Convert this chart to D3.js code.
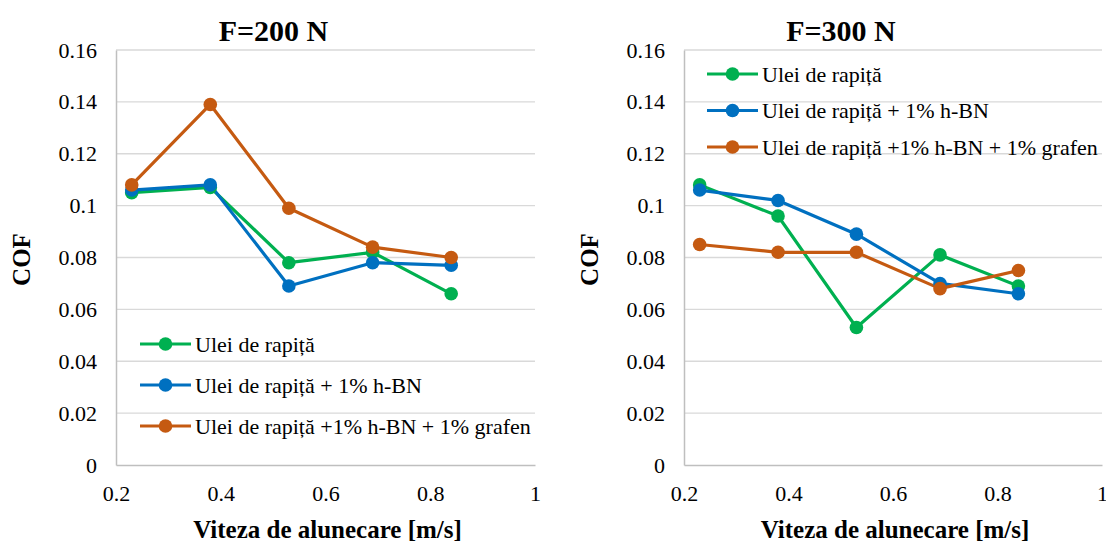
<!DOCTYPE html>
<html><head><meta charset="utf-8">
<script src="https://cdn.jsdelivr.net/npm/d3@7"></script>
<style>body{margin:0;background:#fff}svg{display:block}</style>
</head><body><svg id="c" width="1106" height="542"></svg>
<script>
const speeds = [0.23, 0.38, 0.53, 0.69, 0.84];
const seriesNames = ["Ulei de rapiță", "Ulei de rapiță + 1% h-BN", "Ulei de rapiță +1% h-BN + 1% grafen"];
const seriesColors = ["#00b050", "#0070c0", "#c55a11"];
const f200Green = [0.105, 0.107, 0.078, 0.082, 0.066];
const f200Blue = [0.106, 0.108, 0.069, 0.078, 0.077];
const f200Orange = [0.108, 0.139, 0.099, 0.084, 0.080];
const f300Green = [0.108, 0.096, 0.053, 0.081, 0.069];
const f300Blue = [0.106, 0.102, 0.089, 0.070, 0.066];
const f300Orange = [0.085, 0.082, 0.082, 0.068, 0.075];
const yTicks = [0, 0.02, 0.04, 0.06, 0.08, 0.1, 0.12, 0.14, 0.16];
const xTicks = [0.2, 0.4, 0.6, 0.8, 1];
const titles = ["F=200 N", "F=300 N"];
const xTitle = "Viteza de alunecare [m/s]";
const yTitle = "COF";

const FONT = "'Liberation Serif', 'Times New Roman', Tinos, serif";
const svg = d3.select("#c").attr("font-family", FONT);
const panels = [
  {title: titles[0], data: [f200Green, f200Blue, f200Orange], x0: 116, x1: 535, legend: {x: 140, y: 344, dy: 41}, ytx: 21},
  {title: titles[1], data: [f300Green, f300Blue, f300Orange], x0: 684, x1: 1102, legend: {x: 707, y: 74, dy: 36.5}, ytx: 589}
];
const yTop = 50, yBot = 465;
const fmt = d => d === 0 ? "0" : String(+d.toFixed(2));

panels.forEach(p => {
  const g = svg.append("g");
  const x = d3.scaleLinear().domain([0.2, 1]).range([p.x0, p.x1]);
  const y = d3.scaleLinear().domain([0, 0.16]).range([yBot, yTop]);
  const cx = (p.x0 + p.x1) / 2;
  g.append("g").selectAll("line").data(yTicks.filter(t => t > 0)).join("line")
    .attr("x1", p.x0).attr("x2", p.x1).attr("y1", d => y(d)).attr("y2", d => y(d))
    .attr("stroke", "#d9d9d9").attr("stroke-width", 1.3);
  const ya = g.append("g").attr("transform", `translate(${p.x0},0)`)
    .call(d3.axisLeft(y).tickValues(yTicks).tickFormat(fmt).tickSize(0).tickPadding(19));
  ya.attr("font-family", FONT);
  ya.select(".domain").attr("stroke", "#bfbfbf").attr("stroke-width", 1.5);
  ya.selectAll("text").attr("font-size", 22).attr("fill", "#000");
  const xa = g.append("g").attr("transform", `translate(0,${yBot})`)
    .call(d3.axisBottom(x).tickValues(xTicks).tickFormat(d => String(d)).tickSize(0).tickPadding(0));
  xa.attr("font-family", FONT);
  xa.select(".domain").attr("stroke", "#bfbfbf").attr("stroke-width", 1.5);
  xa.selectAll("text").attr("font-size", 22).attr("fill", "#000").attr("dy", null).attr("y", 36);
  g.append("text").attr("x", cx - 52).attr("y", 41).attr("text-anchor", "middle")
    .attr("font-size", 30).attr("font-weight", "bold").text(p.title);
  g.append("text").attr("x", cx + 2).attr("y", 538).attr("text-anchor", "middle")
    .attr("font-size", 25).attr("font-weight", "bold").text(xTitle);
  g.append("text").attr("transform", `translate(${p.ytx + 9},${(yTop + yBot) / 2 + 2}) rotate(-90)`)
    .attr("text-anchor", "middle").attr("font-size", 25).attr("font-weight", "bold").text(yTitle);
  const line = d3.line().x((d, i) => x(speeds[i])).y(d => y(d));
  p.data.forEach((vals, si) => {
    g.append("path").datum(vals).attr("d", line).attr("fill", "none")
      .attr("stroke", seriesColors[si]).attr("stroke-width", 3.2).attr("stroke-linejoin", "round");
  });
  p.data.forEach((vals, si) => {
    g.append("g").selectAll("circle").data(vals).join("circle")
      .attr("cx", (d, i) => x(speeds[i])).attr("cy", d => y(d)).attr("r", 6.8)
      .attr("fill", seriesColors[si]);
  });
  seriesNames.forEach((name, si) => {
    const ly = p.legend.y + si * p.legend.dy;
    const lg = g.append("g");
    lg.append("line").attr("x1", p.legend.x).attr("x2", p.legend.x + 51).attr("y1", ly).attr("y2", ly)
      .attr("stroke", seriesColors[si]).attr("stroke-width", 3.2);
    lg.append("circle").attr("cx", p.legend.x + 25.5).attr("cy", ly).attr("r", 6.8).attr("fill", seriesColors[si]);
    lg.append("text").attr("x", p.legend.x + 55).attr("y", ly + 7.5).attr("font-size", 22).text(name);
  });
});
</script></body></html>
